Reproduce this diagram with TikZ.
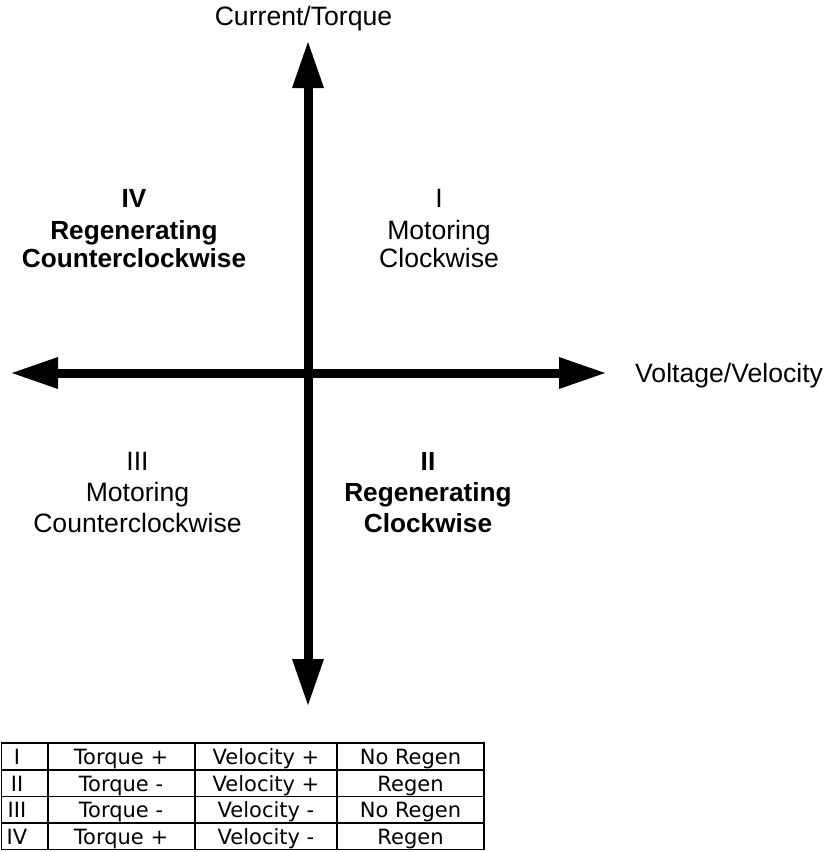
\documentclass[tikz,border=0pt]{standalone}
\usepackage{fontspec}
\setmainfont{Liberation Sans}
\newfontfamily\tabfont{DejaVu Sans}
\usetikzlibrary{arrows.meta}
\begin{document}
\begin{tikzpicture}[x=1pt,y=-1pt,
  axis/.style={line width=9pt,
    {Triangle[length=46pt,width=32pt,line width=0pt]}-{Triangle[length=46pt,width=32pt,line width=0pt]}},
  lbl/.style={font=\fontsize{26.6}{30}\selectfont, anchor=base, inner sep=0pt},
  blbl/.style={font=\fontsize{26.2}{30}\selectfont\bfseries, anchor=base, inner sep=0pt},
  cell/.style={font=\tabfont\fontsize{21}{24}\selectfont, anchor=base, inner sep=0pt},
  gridline/.style={line width=1.6pt}]
\useasboundingbox (0,0) rectangle (828,852);

% axes
\coordinate (top) at (308,42);
\coordinate (bot) at (308,705);
\coordinate (lft) at (12,373);
\coordinate (rgt) at (605,373);
\draw[axis] (top) -- (bot);
\draw[axis] (lft) -- (rgt);

% axis labels
\node[lbl] (ylab) at (303.5,25) {Current/Torque};
\node[lbl, anchor=base west] (xlab) at (635,382) {Voltage/Velocity};

% quadrant I
\node[lbl] (q1a) at (439,207) {I};
\node[lbl] (q1b) at (439,239) {Motoring};
\node[lbl] (q1c) at (439,267) {Clockwise};
% quadrant IV
\node[blbl] (q4a) at (134,207) {IV};
\node[blbl] (q4b) at (134,239) {Regenerating};
\node[blbl] (q4c) at (134,267) {Counterclockwise};
% quadrant III
\node[lbl] (q3a) at (137.5,470) {III};
\node[lbl] (q3b) at (137.5,501) {Motoring};
\node[lbl] (q3c) at (137.5,532) {Counterclockwise};
% quadrant II
\node[blbl] (q2a) at (428,470) {II};
\node[blbl] (q2b) at (428,501) {Regenerating};
\node[blbl] (q2c) at (428,532) {Clockwise};

% table
\draw[gridline] (1.5,743) rectangle (484,849.5);
\foreach \yy in {769.7,796.3,823} \draw[gridline] (1.5,\yy) -- (484,\yy);
\foreach \xx in {48,195,337} \draw[gridline] (\xx,743) -- (\xx,849.5);

\node[cell] (r1a) at (17,764.5) {I};
\node[cell] (r1b) at (121,764.5) {Torque +};
\node[cell] (r1c) at (266,764.5) {Velocity +};
\node[cell] (r1d) at (410.5,764.5) {No Regen};

\node[cell] (r2a) at (17,791.2) {II};
\node[cell] (r2b) at (121,791.2) {Torque -};
\node[cell] (r2c) at (266,791.2) {Velocity +};
\node[cell] (r2d) at (410.5,791.2) {Regen};

\node[cell] (r3a) at (17,817.8) {III};
\node[cell] (r3b) at (121,817.8) {Torque -};
\node[cell] (r3c) at (266,817.8) {Velocity -};
\node[cell] (r3d) at (410.5,817.8) {No Regen};

\node[cell] (r4a) at (17,844.5) {IV};
\node[cell] (r4b) at (121,844.5) {Torque +};
\node[cell] (r4c) at (266,844.5) {Velocity -};
\node[cell] (r4d) at (410.5,844.5) {Regen};
\end{tikzpicture}
\end{document}
